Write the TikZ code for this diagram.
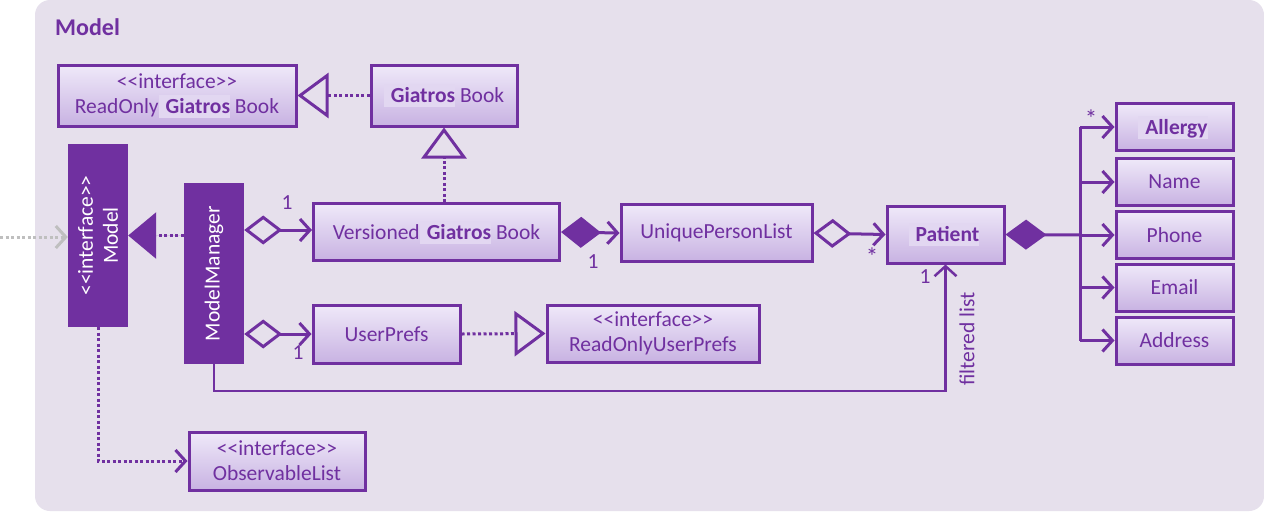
\documentclass[tikz,border=0pt]{standalone}
\usepackage{fontspec}
\setmainfont{Carlito}[Ligatures=TeXOff]
\usetikzlibrary{arrows.meta}
\definecolor{purp}{HTML}{7030A0}
\definecolor{panel}{HTML}{E6E0EC}
\definecolor{boxtop}{HTML}{EFE9F9}
\definecolor{boxbot}{HTML}{C8B2E2}
\definecolor{hlc}{HTML}{E2D7F1}
\definecolor{extgray}{HTML}{BFBFBF}
\newcommand{\fsz}{\fontsize{21.5}{25}\selectfont}
\newcommand{\hlbold}[1]{{\setlength{\fboxsep}{0pt}\colorbox{hlc}{\rule[-4.5pt]{0pt}{23pt}\hspace{7pt}\textbf{#1}}}}
\begin{document}
\begin{tikzpicture}[x=1pt,y=-1pt,
  cls/.style={draw=purp, line width=3pt, top color=boxtop, bottom color=boxbot, text=purp, align=center, inner sep=0pt, font=\fsz},
  fcls/.style={fill=purp, text=white, align=center, inner sep=0pt, font=\fsz, rotate=90},
  conn/.style={draw=purp, line width=3pt},
  dotl/.style={conn, dash pattern=on 3pt off 2.5pt},
  openhead/.style={-{Straight Barb[length=10pt,width=22pt]}},
  aggr/.style={{Diamond[open,length=38pt,width=29pt]}-{Straight Barb[length=10pt,width=22pt]}},
  comp/.style={{Diamond[length=40pt,width=31pt]}-{Straight Barb[length=10pt,width=22pt]}},
  realize/.style={-{Triangle[open,length=31pt,width=45pt]}},
  lbl/.style={text=purp, font=\fsz, inner sep=0pt},
  lblstar/.style={text=purp, font=\fontsize{25}{27}\selectfont, inner sep=0pt}
]
\useasboundingbox (0,0) rectangle (1264,512);
\fill[white] (0,0) rectangle (1264,512);
\fill[panel, rounded corners=15pt] (35,0) rectangle (1264,511);

\node[anchor=west, font=\fontsize{24}{28}\selectfont\bfseries, text=purp, inner sep=0pt] (title) at (55,27) {Model};

% classes
\node[cls, minimum width=238pt, minimum height=61pt] (rogb) at (177,95.5) {<<interface>>\\ReadOnly\hlbold{Giatros} Book};
\node[cls, minimum width=146pt, minimum height=61pt] (gb) at (444,95.5) {\hlbold{Giatros} Book};
\node[fcls, minimum width=183pt, minimum height=60pt] (model) at (98,235.5) {<<interface>>\\Model};
\node[fcls, minimum width=181pt, minimum height=60pt] (mm) at (214,273.5) {ModelManager};
\node[cls, minimum width=246pt, minimum height=57pt] (vgb) at (436.5,232) {Versioned\hlbold{Giatros} Book};
\node[cls, minimum width=191pt, minimum height=57pt] (upl) at (716.5,233) {UniquePersonList};
\node[cls, minimum width=117pt, minimum height=57pt] (pat) at (945.5,234.5) {\hlbold{Patient}\hspace{3pt}};
\node[cls, minimum width=117pt, minimum height=47pt] (allergy) at (1174.5,127) {\hlbold{Allergy}\hspace{3pt}};
\node[cls, minimum width=117pt, minimum height=47pt] (name) at (1174.5,182) {Name};
\node[cls, minimum width=117pt, minimum height=47pt] (phone) at (1174.5,235) {Phone};
\node[cls, minimum width=117pt, minimum height=47pt] (email) at (1174.5,287.5) {Email};
\node[cls, minimum width=117pt, minimum height=47pt] (address) at (1174.5,340.5) {Address};
\node[cls, minimum width=147pt, minimum height=58pt] (up) at (386.5,334) {UserPrefs};
\node[cls, minimum width=212pt, minimum height=57pt] (roup) at (653,333.5) {<<interface>>\\ReadOnlyUserPrefs};
\node[cls, minimum width=176pt, minimum height=58pt] (ol) at (277,461) {<<interface>>\\ObservableList};

% realizations
\draw[dotl, realize] (gb.west) -- (rogb.east);
\draw[dotl, realize] (vgb.north -| gb.south) -- (gb.south);
\draw[dotl, realize] (up.east) -- (roup.west);
\draw[dotl, -{Triangle[length=28pt,width=46pt]}, fill=purp] (mm.north |- model.south) -- (model.south);

% external dependency
\coordinate (ext) at (0,237);
\draw[extgray, line width=3pt, dash pattern=on 3pt off 2.5pt, openhead] (ext) -- (ext -| model.north);

% model -> observable list
\draw[dotl, openhead] (model.west) |- (ol.west);

% aggregations
\draw[conn, aggr] (mm.south |- 0,230) -- (vgb.west |- 0,230);
\draw[conn, aggr] (mm.south |- up.west) -- (up.west);
\draw[conn, comp, fill=purp] (vgb.east) -- (upl.west);
\draw[conn, aggr] (upl.east) -- (pat.west);

% patient attributes
\coordinate (busx) at (1080,235);
\draw[conn, {Diamond[length=41pt,width=30pt]}-, fill=purp] (pat.east) -- (busx);
\draw[conn] (busx |- allergy.west) -- (busx |- address.west);
\foreach \n in {allergy,name,phone,email,address}
  \draw[conn, openhead] (busx |- \n.west) -- (\n.west);

% filtered list
\coordinate (flc) at (945.5,391);
\draw[purp, line width=2.5pt, openhead] (mm.west) |- (flc) -- (pat.south);

% labels
\node[lbl] (l1) at (287,203) {1};
\node[lbl] (l2) at (593,262) {1};
\node[lblstar] (l3) at (872,257) {*};
\node[lbl] (l4) at (925,277) {1};
\node[lbl] (l5) at (298,353) {1};
\node[lblstar] (l6) at (1091,119) {*};
\node[lbl, rotate=90] (fl) at (967,339) {filtered list};
\end{tikzpicture}
\end{document}
